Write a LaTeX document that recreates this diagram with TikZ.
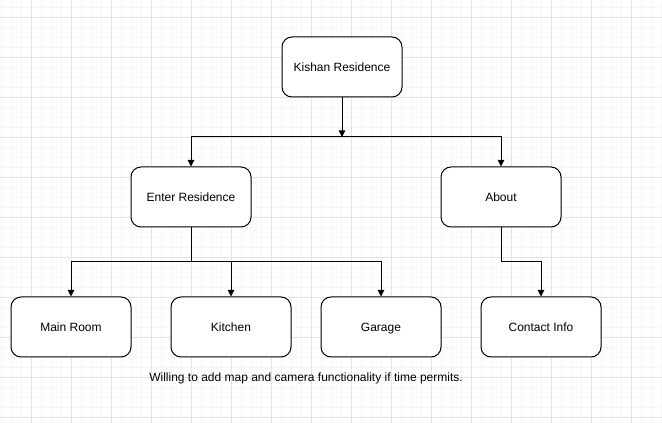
\documentclass[tikz,border=0pt]{standalone}
\usepackage{fontspec}
\setmainfont{Liberation Sans}
\usetikzlibrary{arrows.meta}
\definecolor{gridmajor}{HTML}{E4E4E4}
\definecolor{gridminor}{HTML}{F6F6F6}

\begin{document}
\begin{tikzpicture}[x=0.75pt,y=-0.75pt,
    box/.style={draw, fill=white, rounded corners=7.5pt, line width=0.75pt,
      minimum width=90pt, minimum height=45pt, text height=1.5ex, text depth=.25ex,
      font=\fontsize{9}{11}\selectfont},
    link/.style={line width=0.75pt, -{Triangle[length=5pt,width=5pt]}}]
        \useasboundingbox (0,0) rectangle (662,423);
        % grid
        \foreach \x in {1,11,...,661} \draw[gridminor, line width=0.6pt] (\x,0) -- (\x,423);
        \foreach \y in {7,17,...,417} \draw[gridminor, line width=0.6pt] (0,\y) -- (662,\y);
        \foreach \x in {31,71,...,631} \draw[gridmajor, line width=0.6pt] (\x,0) -- (\x,423);
        \foreach \y in {17,57,...,417} \draw[gridmajor, line width=0.6pt] (0,\y) -- (662,\y);

        \node[box] (kishan) at (342,67) {Kishan Residence};
        \node[box] (enter) at (191,197) {Enter Residence};
        \node[box] (about) at (501,197) {About};
        \node[box] (main) at (71,327) {Main Room};
        \node[box] (kitchen) at (231,327) {Kitchen};
        \node[box] (garage) at (381,327) {Garage};
        \node[box] (contact) at (541,327) {Contact Info};
        \node[font=\fontsize{9}{11}\selectfont] (note) at (306,378) {Willing to add map and camera functionality if time permits.};

        \coordinate (top) at (342,137);
        \coordinate (split) at (191,262);
        \coordinate (aboutbend) at (501,262);

        \draw[link] (kishan) -- (top);
        \draw[link] (top) -| (enter);
        \draw[link] (top) -| (about);
        \draw[line width=0.75pt] (enter) -- (split);
        \draw[link] (split) -| (main);
        \draw[link] (split) -| (kitchen);
        \draw[link] (split) -| (garage);
        \draw[link] (about) -- (aboutbend) -| (contact);
\end{tikzpicture}
\end{document}
